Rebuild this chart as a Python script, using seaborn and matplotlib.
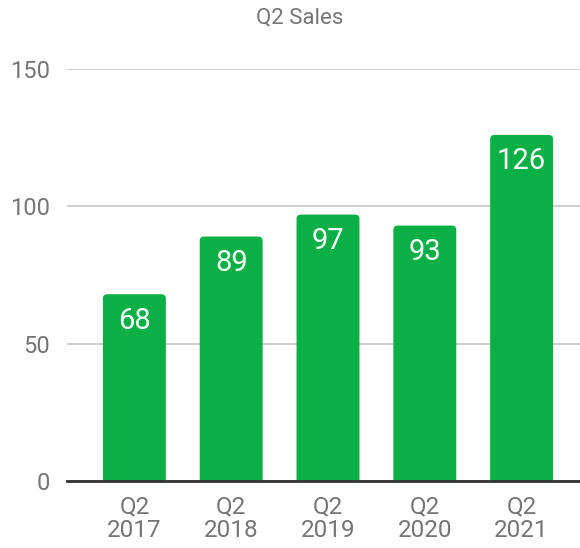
import pandas as pd
import matplotlib.pyplot as plt
import seaborn as sns
from matplotlib.patches import FancyBboxPatch

# Chart data
quarters = ["Q2\n2017", "Q2\n2018", "Q2\n2019", "Q2\n2020", "Q2\n2021"]
sales = [68, 89, 97, 93, 126]
y_ticks = [0, 50, 100, 150]

df = pd.DataFrame({"quarter": quarters, "sales": sales})

sns.set_style("white")
plt.rcParams["font.family"] = ["Roboto", "DejaVu Sans"]

green = "#0aaf45"
gray = "#757575"

fig = plt.figure(figsize=(5.8, 5.48), dpi=100)
ax = fig.add_axes([67 / 580, 1 - 481 / 548, 1 - 67 / 580, (481 - 69) / 548])

sns.barplot(data=df, x="quarter", y="sales", color=green, saturation=1,
            width=0.65, ax=ax, zorder=3)

# swap plain bars for ones with slightly rounded top corners
for p in list(ax.patches):
    x0, w, h = p.get_x(), p.get_width(), p.get_height()
    rb = FancyBboxPatch((x0, -3), w, h + 3,
                        boxstyle="round,pad=0,rounding_size=0.045",
                        mutation_aspect=36, facecolor=green, edgecolor="none",
                        zorder=3)
    p.remove()
    ax.add_patch(rb)

ax.set_ylim(0, 150)
ax.set_xlim(-0.696, 4.603)
ax.set_yticks(y_ticks)
ax.yaxis.grid(True, color="#cccccc", linewidth=1.3, zorder=0)
ax.set_axisbelow(True)
for s in ["top", "right", "left"]:
    ax.spines[s].set_visible(False)
ax.spines["bottom"].set_color("#333333")
ax.spines["bottom"].set_linewidth(2)
ax.spines["bottom"].set_zorder(4)

ax.tick_params(axis="y", length=0, pad=12, labelsize=17, labelcolor=gray)
ax.tick_params(axis="x", length=0, pad=10, labelsize=17.5, labelcolor=gray)
for lbl in ax.get_xticklabels():
    lbl.set_linespacing(1.05)
ax.set_xlabel("")
ax.set_ylabel("")

# value labels inside bar tops
for i, v in enumerate(sales):
    ax.annotate(str(v), (i, v), xytext=(0, -19), textcoords="offset points",
                ha="center", va="center", color="white", fontsize=21, zorder=5)

fig.text(0.517, 1 - 18 / 548, "Q2 Sales", ha="center", va="center",
         fontsize=16, color=gray)

fig.savefig("out.png", dpi=100)
